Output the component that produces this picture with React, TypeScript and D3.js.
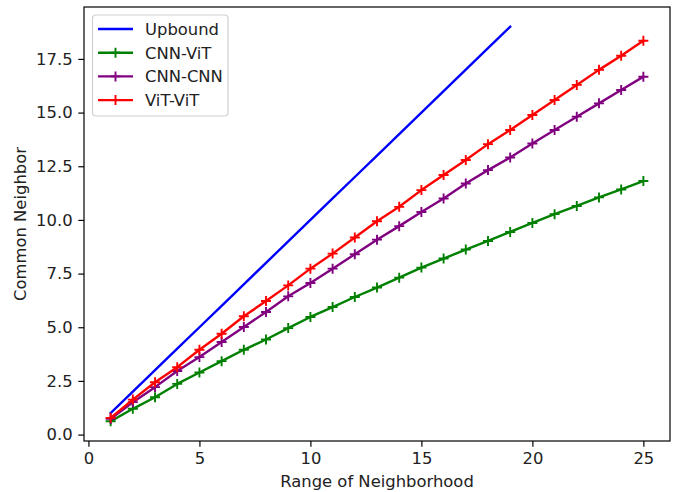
import { useEffect, useRef } from 'react';
import * as d3 from 'd3';

// neighborhood range (x) for the three measured series
const range_x = [1, 2, 3, 4, 5, 6, 7, 8, 9, 10, 11, 12, 13, 14, 15, 16, 17, 18, 19, 20, 21, 22, 23, 24, 25];

// upper bound line
const upbound_x = [1, 2, 3, 4, 5, 6, 7, 8, 9, 10, 11, 12, 13, 14, 15, 16, 17, 18, 19];
const upbound_y = [1, 2, 3, 4, 5, 6, 7, 8, 9, 10, 11, 12, 13, 14, 15, 16, 17, 18, 19];

const cnn_vit = [0.62, 1.20, 1.74, 2.36, 2.89, 3.42, 3.95, 4.43, 4.96, 5.48, 5.94, 6.41, 6.85, 7.31, 7.78, 8.20, 8.62, 9.02, 9.44, 9.86, 10.27, 10.65, 11.05, 11.42, 11.81];
const cnn_cnn = [0.73, 1.51, 2.21, 2.96, 3.61, 4.31, 5.01, 5.71, 6.44, 7.06, 7.73, 8.40, 9.08, 9.71, 10.37, 11.00, 11.70, 12.32, 12.91, 13.56, 14.19, 14.81, 15.43, 16.05, 16.67];
const vit_vit = [0.78, 1.63, 2.44, 3.14, 3.95, 4.70, 5.51, 6.22, 6.95, 7.73, 8.43, 9.18, 9.94, 10.61, 11.39, 12.09, 12.79, 13.53, 14.19, 14.89, 15.59, 16.29, 16.99, 17.65, 18.35];

const series_names = ["Upbound", "CNN-ViT", "CNN-CNN", "ViT-ViT"];
const series_colors = ["blue", "green", "purple", "red"];

const x_ticks = [0, 5, 10, 15, 20, 25];
const y_ticks = [0, 2.5, 5, 7.5, 10, 12.5, 15, 17.5];

const x_label = "Range of Neighborhood";
const y_label = "Common Neighbor";

export default function App() {
    const svg_ref = useRef(null);

    useEffect(() => {
        const width = 681;
        const height = 492;
        const left = 84;
        const right = 670;
        const top = 7;
        const bottom = 441;
        const font = "'DejaVu Sans', sans-serif";
        const font_size = 16.4;
        const tick_len = 5.7;

        const svg = d3.select(svg_ref.current);
        svg.selectAll("*").remove();
        svg.attr("width", width).attr("height", height);

        svg.append("rect")
            .attr("width", width)
            .attr("height", height)
            .attr("fill", "white");

        // scales (matplotlib style 5% margins)
        const x_scale = d3.scaleLinear().domain([-0.2, 26.2]).range([left, right]);
        const y_scale = d3.scaleLinear().domain([-0.299, 19.919]).range([bottom, top]);

        // x axis
        const x_axis = d3.axisBottom(x_scale)
            .tickValues(x_ticks)
            .tickSize(tick_len)
            .tickPadding(5.2)
            .tickFormat(d3.format("d"));
        const gx = svg.append("g")
            .attr("transform", "translate(0," + bottom + ")")
            .call(x_axis);
        gx.select(".domain").remove();
        gx.selectAll("line").attr("stroke", "#000").attr("stroke-width", 1.2);
        gx.selectAll("text")
            .attr("font-family", font)
            .attr("font-size", font_size)
            .attr("fill", "#222");

        // y axis
        const y_axis = d3.axisLeft(y_scale)
            .tickValues(y_ticks)
            .tickSize(tick_len)
            .tickPadding(5.7)
            .tickFormat(d3.format(".1f"));
        const gy = svg.append("g")
            .attr("transform", "translate(" + left + ",0)")
            .call(y_axis);
        gy.select(".domain").remove();
        gy.selectAll("line").attr("stroke", "#000").attr("stroke-width", 1.2);
        gy.selectAll("text")
            .attr("font-family", font)
            .attr("font-size", font_size)
            .attr("fill", "#222");

        // axis titles
        svg.append("text")
            .attr("x", (left + right) / 2)
            .attr("y", 487)
            .attr("text-anchor", "middle")
            .attr("font-family", font)
            .attr("font-size", font_size)
            .attr("fill", "#222")
            .text(x_label);

        svg.append("text")
            .attr("transform", "translate(26," + ((top + bottom) / 2) + ") rotate(-90)")
            .attr("text-anchor", "middle")
            .attr("font-family", font)
            .attr("font-size", font_size)
            .attr("fill", "#222")
            .text(y_label);

        // lines
        const line = d3.line()
            .x(function(d) { return x_scale(d[0]); })
            .y(function(d) { return y_scale(d[1]); });

        const all_series = [
            upbound_x.map(function(x, i) { return [x, upbound_y[i]]; }),
            range_x.map(function(x, i) { return [x, cnn_vit[i]]; }),
            range_x.map(function(x, i) { return [x, cnn_cnn[i]]; }),
            range_x.map(function(x, i) { return [x, vit_vit[i]]; })
        ];

        const plot = svg.append("g");
        const m = 5;
        all_series.forEach(function(pts, i) {
            plot.append("path")
                .attr("d", line(pts))
                .attr("fill", "none")
                .attr("stroke", series_colors[i])
                .attr("stroke-width", 2.4)
                .attr("stroke-linejoin", "round")
                .attr("stroke-linecap", "square");
            if (i > 0) {
                // '+' markers
                plot.selectAll(".mk" + i)
                    .data(pts).enter()
                    .append("path")
                    .attr("d", function(d) {
                        const cx = x_scale(d[0]);
                        const cy = y_scale(d[1]);
                        return "M" + (cx - m) + "," + cy + "H" + (cx + m) + "M" + cx + "," + (cy - m) + "V" + (cy + m);
                    })
                    .attr("stroke", series_colors[i])
                    .attr("stroke-width", 1.9)
                    .attr("fill", "none");
            }
        });

        // frame
        svg.append("rect")
            .attr("x", left)
            .attr("y", top)
            .attr("width", right - left)
            .attr("height", bottom - top)
            .attr("fill", "none")
            .attr("stroke", "#000")
            .attr("stroke-width", 1.2);

        // legend
        const lg = svg.append("g");
        lg.append("rect")
            .attr("x", 92.5)
            .attr("y", 15)
            .attr("width", 135.5)
            .attr("height", 101)
            .attr("rx", 3.5)
            .attr("fill", "white")
            .attr("fill-opacity", 0.8)
            .attr("stroke", "#d0d0d0")
            .attr("stroke-width", 1.2);

        series_names.forEach(function(name, i) {
            const ry = 29 + i * 23.7;
            lg.append("line")
                .attr("x1", 98)
                .attr("x2", 133)
                .attr("y1", ry)
                .attr("y2", ry)
                .attr("stroke", series_colors[i])
                .attr("stroke-width", 2.4);
            if (i > 0) {
                lg.append("path")
                    .attr("d", "M" + (115.5 - m) + "," + ry + "H" + (115.5 + m) + "M115.5," + (ry - m) + "V" + (ry + m))
                    .attr("stroke", series_colors[i])
                    .attr("stroke-width", 1.9);
            }
            lg.append("text")
                .attr("x", 145)
                .attr("y", ry)
                .attr("dy", "0.36em")
                .attr("font-family", font)
                .attr("font-size", font_size)
                .attr("fill", "#222")
                .text(name);
        });
    }, []);

    return (
        <svg ref={svg_ref} style={{ position: "fixed", left: 0, top: 0, display: "block" }}></svg>
    );
}
